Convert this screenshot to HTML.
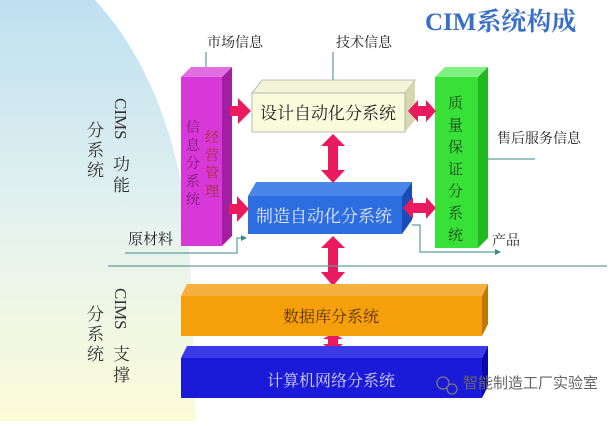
<!DOCTYPE html>
<html><head><meta charset="utf-8"><style>
body{margin:0;width:616px;height:421px;overflow:hidden;background:#fff}
text{font-family:"Liberation Serif","Noto Serif CJK SC",serif}
</style></head><body>
<svg width="616" height="421" viewBox="0 0 616 421" xmlns="http://www.w3.org/2000/svg">
<defs>
<linearGradient id="bg" x1="0" y1="0" x2="0" y2="1">
<stop offset="0" stop-color="#bfe0f2"/><stop offset="0.55" stop-color="#e6f3ee"/><stop offset="1" stop-color="#fbfbd8"/>
</linearGradient>
<marker id="ar" markerWidth="6" markerHeight="6" refX="5" refY="3" orient="auto"><path d="M0,0 L6,3 L0,6 z" fill="#3a8a8a"/></marker>
</defs>
<path d="M0,0 L95,0 C150,60 185,150 190,260 L196,421 L0,421 Z" fill="url(#bg)"/>
<text x="425" y="30" font-size="25" font-weight="bold" fill="#3a6fc8">CIM系统构成</text>
<text x="207" y="47" font-size="14" fill="#222">市场信息</text>
<text x="336" y="47" font-size="14" fill="#222">技术信息</text>
<line x1="206" y1="52" x2="206" y2="70" stroke="#3a8a8a" stroke-width="1"/>
<line x1="333" y1="52" x2="333" y2="84" stroke="#3a8a8a" stroke-width="1"/>
<polygon points="181,77 191,67 232,67 222,77" fill="#e070e0"/>
<polygon points="222,77 232,67 232,236 222,246" fill="#a21fa2"/>
<rect x="181" y="77" width="41" height="169" fill="#d838d8"/>
<g font-size="14" fill="#7a1a7a"><text x="186" y="132">信</text><text x="186" y="150">息</text><text x="186" y="168">分</text><text x="186" y="186">系</text><text x="186" y="204">统</text>
<text x="205" y="142" fill="#a03030">经</text><text x="205" y="160" fill="#a03030">营</text><text x="205" y="178" fill="#a03030">管</text><text x="205" y="196" fill="#a03030">理</text></g>
<polygon points="435,77 445,67 488,67 478,77" fill="#80f080"/>
<polygon points="478,77 488,67 488,238 478,248" fill="#22b822"/>
<rect x="435" y="77" width="43" height="171" fill="#38e038"/>
<g font-size="15" fill="#1a4a1a"><text x="448" y="108">质</text><text x="448" y="130">量</text><text x="448" y="152">保</text><text x="448" y="174">证</text><text x="448" y="196">分</text><text x="448" y="218">系</text><text x="448" y="240">统</text></g>
<polygon points="252,93 262,80 415,80 405,93" fill="#f4f4d8" stroke="#a8b0a0" stroke-width="0.8"/>
<polygon points="405,93 415,80 415,120 405,132" fill="#d8d8b0"/>
<rect x="252" y="93" width="153" height="39" fill="#fafadc" stroke="#a8b0a0" stroke-width="0.8"/>
<text x="328" y="119" font-size="17" text-anchor="middle" fill="#222">设计自动化分系统</text>
<polygon points="248,196 256,182 412,182 402,196" fill="#4a86e8"/>
<polygon points="402,196 412,182 412,220 402,234" fill="#1a4cb8"/>
<rect x="248" y="196" width="154" height="38" fill="#2c6ee0"/>
<text x="324" y="222" font-size="17" text-anchor="middle" fill="#e8e8f8">制造自动化分系统</text>
<g fill="#ea1a5e">
<path d="M230,106 L238,106 L238,98 L251,111 L238,124 L238,116 L230,116 Z"/>
<path d="M229,204 L237,204 L237,196 L249,209 L237,222 L237,214 L229,214 Z"/>
<path d="M408,111 L418,100 L418,106 L426,106 L426,100 L436,111 L426,122 L426,116 L418,116 L418,122 Z"/>
<path d="M403,208 L413,197 L413,203 L426,203 L426,197 L436,208 L426,219 L426,213 L413,213 L413,219 Z"/>
<path d="M333,134 L345,146 L338,146 L338,170 L345,170 L333,183 L321,170 L328,170 L328,146 L321,146 Z"/>
<path d="M333,236 L345,248 L338,248 L338,272 L345,272 L333,286 L321,272 L328,272 L328,248 L321,248 Z"/>
<path d="M333,333 L343,339 L338,339 L338,344 L343,344 L333,352 L323,344 L328,344 L328,339 L323,339 Z"/>
</g>
<text x="497" y="143" font-size="14" fill="#222">售后服务信息</text>
<line x1="488" y1="159" x2="535" y2="159" stroke="#3a8a8a"/>
<text x="128" y="244" font-size="15" fill="#222">原材料</text>
<polyline points="125,253 237,253 237,238 246,238" fill="none" stroke="#3a8a8a" marker-end="url(#ar)"/>
<polyline points="412,225 420,225 420,252 500,252" fill="none" stroke="#3a8a8a" marker-end="url(#ar)"/>
<text x="492" y="245" font-size="14" fill="#222">产品</text>
<line x1="108" y1="266" x2="607" y2="266" stroke="#6a9a9a" stroke-width="1.2"/>
<g font-size="17" fill="#333">
<text transform="translate(115,98) rotate(90)">CIMS</text>
<text x="113" y="170">功</text><text x="113" y="191">能</text>
<text x="87" y="136">分</text><text x="87" y="156">系</text><text x="87" y="176">统</text>
<text transform="translate(115,288) rotate(90)">CIMS</text>
<text x="113" y="360">支</text><text x="113" y="381">撑</text>
<text x="87" y="320">分</text><text x="87" y="340">系</text><text x="87" y="360">统</text>
</g>
<polygon points="181,296 187,284 488,284 482,296" fill="#f6b040"/>
<polygon points="482,296 488,284 488,324 482,336" fill="#c07800"/>
<rect x="181" y="296" width="301" height="40" fill="#f5a00a"/>
<text x="331" y="322" font-size="16" text-anchor="middle" fill="#5a3000">数据库分系统</text>
<polygon points="181,358 187,346 488,346 482,358" fill="#3a3ae8"/>
<polygon points="482,358 488,346 488,386 482,398" fill="#0a0aa8"/>
<rect x="181" y="358" width="301" height="40" fill="#1a1ad8"/>
<text x="331" y="386" font-size="16" text-anchor="middle" fill="#d8d8f0">计算机网络分系统</text>
<circle cx="443" cy="383" r="6" fill="none" stroke="#777" stroke-width="1.3"/>
<circle cx="452" cy="389" r="5" fill="none" stroke="#777" stroke-width="1.3"/>
<text x="463" y="388" font-size="15" fill="#666" style="font-family:'Liberation Sans','Noto Sans CJK SC',sans-serif">智能制造工厂实验室</text>
</svg>
</body></html>
